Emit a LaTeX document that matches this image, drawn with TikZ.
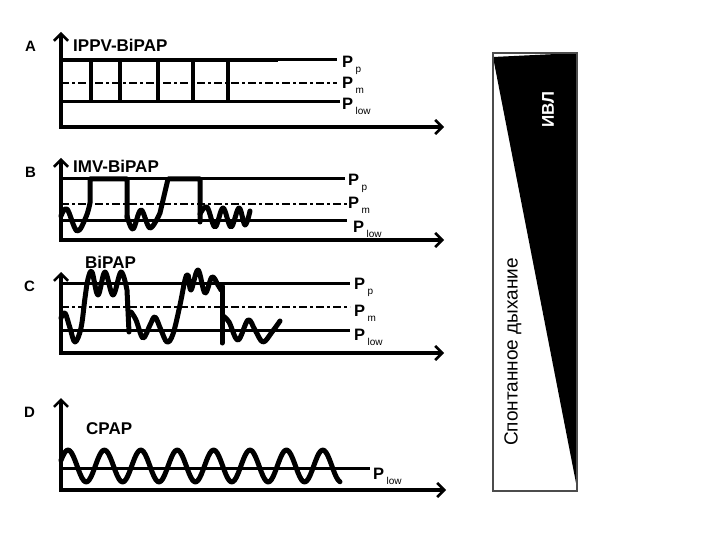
\documentclass[tikz,border=0pt]{standalone}
\usepackage{fontspec}
\setmainfont{Liberation Sans}
\usetikzlibrary{arrows.meta}
\newcommand{\Plab}[1]{\textbf{P}\hspace{2.5pt}\raisebox{-5pt}{\mdseries\fontsize{10}{10}\selectfont #1}}
\begin{document}
\begin{tikzpicture}[x=1pt,y=-1pt,
  axis/.style={line width=3.2pt, line join=miter,
    {Straight Barb[length=7pt,width=14pt,line width=2.6pt]}-{Straight Barb[length=7pt,width=14pt,line width=2.6pt]}},
  levelline/.style={line width=3pt},
  midline/.style={line width=2.7pt, dash pattern=on 8pt off 3pt on 3pt off 3pt},
  pulse/.style={line width=3.5pt},
  wave/.style={line width=5pt, line join=round, line cap=round},
  ttl/.style={anchor=base west, inner sep=0pt, font=\bfseries\fontsize{17}{17}\selectfont},
  plabel/.style={anchor=base west, inner sep=0pt, font=\fontsize{16.5}{16.5}\selectfont},
  panelL/.style={anchor=base west, inner sep=0pt, font=\bfseries\fontsize{15}{15}\selectfont}]
\useasboundingbox (0,0) rectangle (720,540);

% ---------- Panel A ----------
\node[panelL] (lA) at (25,52) {A};
\node[ttl] (tA) at (73,52) {IPPV-BiPAP};
\draw[axis] (61,32) -- (61,127) -- (444,127);
\draw[levelline] (61,60) -- (337,60);
\draw[pulse] (61,60) -- (278,60);
\draw[midline] (61,83) -- (337,83);
\draw[levelline] (61,102) -- (340,102);
\foreach \x in {91,120,158,193,228} \draw[pulse] (\x,60) -- (\x,102);
\node[plabel] (ppA) at (342,68) {\Plab{p}};
\node[plabel] (pmA) at (342,89) {\Plab{m}};
\node[plabel] (plA) at (342,110) {\Plab{low}};

% ---------- Panel B ----------
\node[panelL] (lB) at (25,178) {B};
\node[ttl] (tB) at (73,173) {IMV-BiPAP};
\draw[axis] (61,158) -- (61,240) -- (444,240);
\draw[levelline] (61,179) -- (345,179);
\draw[midline] (61,204) -- (347,204);
\draw[levelline] (61,221) -- (347,221);
\draw[wave] plot[smooth,tension=0.6] coordinates {(61,216) (67,209) (77,231) (86,217) (90,203)}
  -- (90,179) -- (127,179) -- (127,218);
\draw[wave] plot[smooth,tension=0.6] coordinates {(127,216) (133,229) (141,210) (150,228) (160,213)}
  -- (168,179) -- (200,179) -- (200,222);
\draw[wave] plot[smooth,tension=0.6] coordinates {(200,214) (207,207) (215,227) (223,208) (231,227) (239,208) (245,225) (250,211)};
\node[plabel] (ppB) at (348,186) {\Plab{p}};
\node[plabel] (pmB) at (348,209) {\Plab{m}};
\node[plabel] (plB) at (353,233) {\Plab{low}};

% ---------- Panel C ----------
\node[panelL] (lC) at (24,291) {C};
\node[ttl] (tC) at (85,268) {BiPAP};
\draw[axis] (61,272) -- (61,353) -- (444,353);
\draw[levelline] (61,283) -- (350,283);
\draw[midline] (61,307) -- (350,307);
\draw[levelline] (61,330) -- (350,330);
\draw[wave] plot[smooth,tension=0.6] coordinates {(61,318) (65,313) (70,328) (75,342) (81,328) (85,298) (88,279) (92,272) (98,295) (105,272) (113,295) (121,272) (127,290)}
  -- (129,332);
\draw[wave] plot[smooth,tension=0.6] coordinates {(131,312) (136,320) (143,338) (150,325) (155,317) (161,330) (167,342) (173,334) (180,305) (185,280) (188,275) (191,290) (198,270) (205,293) (212,277) (218,285) (221,290)};
\draw[wave] (222,286) -- (222,343);
\draw[wave] plot[smooth,tension=0.6] coordinates {(223,316) (229,322) (238,340) (248,320) (255,330) (263,342) (272,332) (280,321)};
\node[plabel] (ppC) at (354,289) {\Plab{p}};
\node[plabel] (pmC) at (354,316) {\Plab{m}};
\node[plabel] (plC) at (354,340) {\Plab{low}};

% ---------- Panel D ----------
\node[panelL] (lD) at (24,417) {D};
\node[ttl] (tD) at (86,434) {CPAP};
\draw[axis] (61,398) -- (61,490) -- (446,490);
\draw[levelline] (61,468) -- (370,468);
\draw[wave] plot[domain=61:340,samples=160] (\x,{466-16*cos(9.89*(\x-68))});
\node[plabel] (plD) at (373,479) {\Plab{low}};

% ---------- Right bar ----------
\fill[black] (493,57) -- (577,53) -- (577,488) -- cycle;
\draw[gray!60!black, line width=2pt] (493,53) rectangle (577,491);
\node[rotate=90, text=white, font=\bfseries\fontsize{17}{17}\selectfont] (ivl) at (548,110) {ИВЛ};
\node[rotate=90, font=\fontsize{19}{19}\selectfont] (spont) at (513,352) {Спонтанное дыхание};
\end{tikzpicture}
\end{document}
